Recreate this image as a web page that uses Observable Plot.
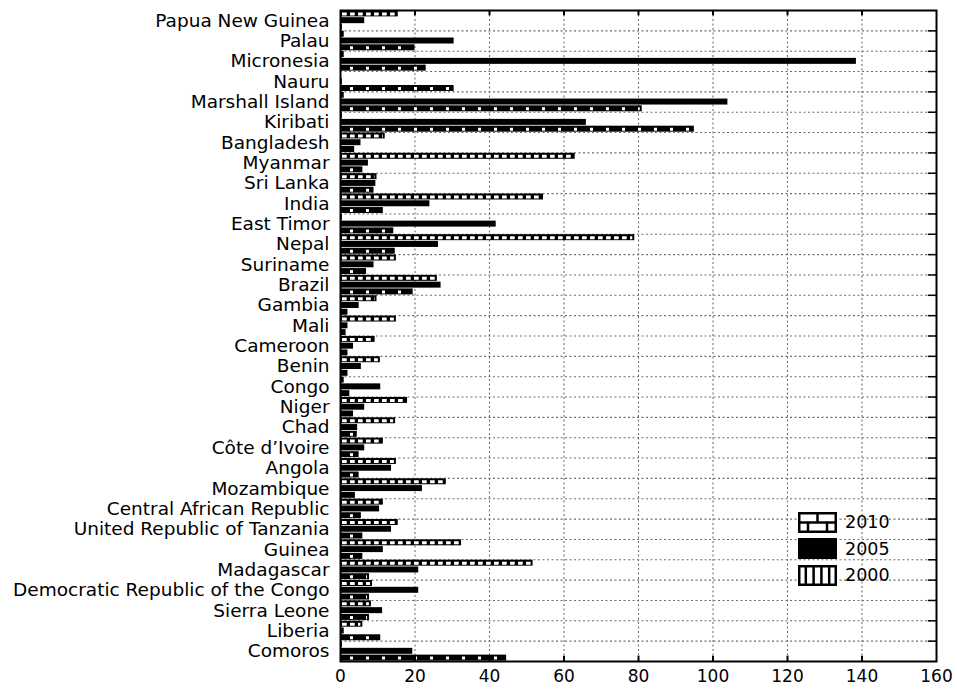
<!DOCTYPE html>
<html><head><meta charset="utf-8">
<script src="https://cdn.jsdelivr.net/npm/d3@7"></script>
<script src="https://cdn.jsdelivr.net/npm/@observablehq/plot@0.6"></script>
<style>
body{margin:0;background:#fff;}
#wrap{position:relative;width:957px;height:690px;}
#legend{position:absolute;left:798px;top:509px;font-family:"DejaVu Sans",sans-serif;font-size:17.5px;color:#000;}
.row{display:flex;align-items:center;height:26.5px;}
.row svg{margin-right:8px;display:block}
</style></head><body>
<div id="wrap"><div id="legend"></div></div>
<script>
const countries = ["Papua New Guinea","Palau","Micronesia","Nauru","Marshall Island","Kiribati","Bangladesh","Myanmar","Sri Lanka","India","East Timor","Nepal","Suriname","Brazil","Gambia","Mali","Cameroon","Benin","Congo","Niger","Chad","Côte d’Ivoire","Angola","Mozambique","Central African Republic","United Republic of Tanzania","Guinea","Madagascar","Democratic Republic of the Congo","Sierra Leone","Liberia","Comoros"];
const v2010 = [15.5,1,1,0,1,0.5,12,63,9.8,54.5,0.5,79,15,26,9.8,15,9.3,10.7,1,18,14.8,11.5,15,28.4,11.5,15.5,32.5,51.7,8.6,8.3,6,0.5];
const v2005 = [6.5,30.5,138.5,0.5,104,66,5.5,7.5,9.5,24,41.8,26.3,9,27,5,2,3.5,5.6,10.8,6.5,4.6,6.5,13.7,22,10.5,13.7,11.5,21,21,11.3,1,19.4];
const v2000 = [0.5,20,23,30.5,81,95,3.8,6,9,11.5,14.3,14.7,7,19.5,2,1.5,2,2,2.5,3.5,4.5,5,5,4,5.6,6,6,7.8,7.8,7.8,10.8,44.6];
const years = ["2010","2005","2000"];
const xTicks = [0,20,40,60,80,100,120,140,160];
const gridX = [20,40,60,80,100,120,140];

const series = {"2010": v2010, "2005": v2005, "2000": v2000};
const rows = [];
countries.forEach((c,i) => years.forEach(y => rows.push({country:c, year:y, value:series[y][i]})));
const key = d => d.country + "|" + d.year;
const yDomain = countries.flatMap(c => years.map(y => c + "|" + y));

const W=957, H=690, mT=10, mB=29, mL=340, mR=21;
const bw = (H - mT - mB) / yDomain.length;
const grid = {stroke:"#6e6e6e", strokeWidth:1.1, strokeDasharray:"2,2.5"};

const plot = Plot.plot({
  width:W, height:H, marginTop:mT, marginBottom:mB, marginLeft:mL, marginRight:mR,
  style:{fontFamily:"DejaVu Sans, sans-serif", fontSize:"17px", color:"black", background:"white"},
  x:{domain:[0,160], ticks:xTicks, tickSize:0, tickPadding:8, label:null},
  y:{type:"band", domain:yDomain, padding:0, tickSize:0, tickPadding:11, label:null,
     tickFormat: d => d.endsWith("|2005") ? d.split("|")[0] : ""},
  marks:[
    Plot.ruleX(gridX, {x:d=>d, ...grid}),
    Plot.ruleY(countries.slice(0,-1), {y:c=>c+"|2000", dy:bw/2, ...grid}),
    Plot.barX(rows, {x:"value", y:key, fill:"black", insetTop:0.4, insetBottom:0.4}),
    Plot.ruleY(rows.filter(d=>d.year==="2010" && d.value>2.5), {y:key, x1:0, x2:"value", insetLeft:2, insetRight:2, stroke:"white", strokeWidth:3, strokeDasharray:"4.7,3.3"}),
    Plot.ruleY(rows.filter(d=>d.year==="2000" && d.value>4), {y:key, x1:0, x2:"value", insetLeft:2, insetRight:2, stroke:"white", strokeWidth:3, strokeDasharray:"3,13", strokeDashoffset:8}),
    Plot.tickX(gridX, {x:d=>d, y:()=>yDomain[0], stroke:"black", strokeWidth:2, insetBottom:1.5}),
    Plot.tickX(gridX, {x:d=>d, y:()=>yDomain[yDomain.length-1], stroke:"black", strokeWidth:2, insetTop:1.5}),
    Plot.ruleY(countries.slice(0,-1), {y:c=>c+"|2000", dy:bw/2, x1:157.8, x2:160, stroke:"black", strokeWidth:1.5}),
    Plot.frame({stroke:"black", strokeWidth:2})
  ]
});
document.getElementById("wrap").prepend(plot);
plot.querySelectorAll('g[aria-label="y-axis tick label"], g[aria-label="y-axis"]').forEach(g => g.setAttribute("font-size","18.5"));

const legendYears = ["2010","2005","2000"];
const sw = {
  "2010": `<svg width="39" height="21"><rect x="1.25" y="1.25" width="36.5" height="18.5" fill="#fff" stroke="#000" stroke-width="2.5"/><line x1="0" x2="39" y1="10.5" y2="10.5" stroke="#000" stroke-width="2.5"/><line x1="19.5" x2="19.5" y1="0" y2="10.5" stroke="#000" stroke-width="2.5"/><line x1="10" x2="10" y1="10.5" y2="21" stroke="#000" stroke-width="2.5"/><line x1="29" x2="29" y1="10.5" y2="21" stroke="#000" stroke-width="2.5"/></svg>`,
  "2005": `<svg width="39" height="21"><rect x="0" y="0" width="39" height="21" fill="#000"/></svg>`,
  "2000": `<svg width="39" height="21"><rect x="1.25" y="1.25" width="36.5" height="18.5" fill="#fff" stroke="#000" stroke-width="2.5"/>` +
          [1,2,3,4].map(k=>`<line x1="${k*39/5}" x2="${k*39/5}" y1="0" y2="21" stroke="#000" stroke-width="2.5"/>`).join("") + `</svg>`
};
document.getElementById("legend").innerHTML = legendYears.map(y => `<div class="row">${sw[y]}<span>${y}</span></div>`).join("");
</script>
</body></html>
